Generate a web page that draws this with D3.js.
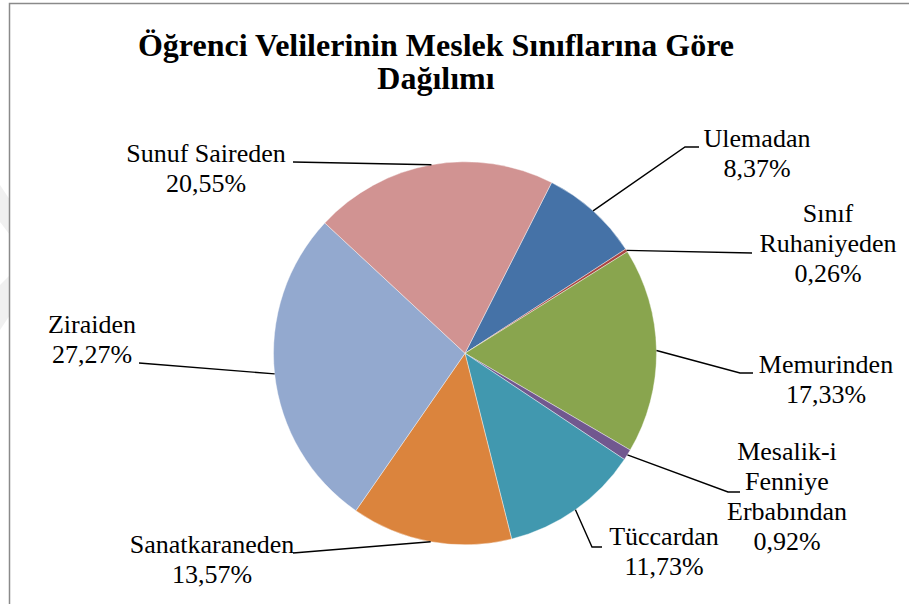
<!DOCTYPE html>
<html><head><meta charset="utf-8">
<script src="https://cdn.jsdelivr.net/npm/d3@7"></script>
<style>html,body{margin:0;padding:0;background:#fff;}svg{display:block;}</style>
</head><body>
<svg id="c" width="909" height="604"></svg>
<script>
const categories = ["Ulemadan","Sınıf Ruhaniyeden","Memurinden","Mesalik-i Fenniye Erbabından","Tüccardan","Sanatkaraneden","Ziraiden","Sunuf Saireden"];
const values = [8.37,0.26,17.33,0.92,11.73,13.57,27.27,20.55];
const valueLabels = ["8,37%","0,26%","17,33%","0,92%","11,73%","13,57%","27,27%","20,55%"];
const labelLines = [["Ulemadan"],["Sınıf","Ruhaniyeden"],["Memurinden"],["Mesalik-i","Fenniye","Erbabından"],["Tüccardan"],["Sanatkaraneden"],["Ziraiden"],["Sunuf Saireden"]];
const colors = ["#4572A7","#AA4643","#89A54E","#71588F","#4198AF","#DB843D","#93A9CF","#D19392"];
const titleLines = ["Öğrenci Velilerinin Meslek Sınıflarına Göre","Dağılımı"];

// layout: label centre x, first baseline y, leader elbow points
const labelLayout = [
  {x:757, y:147, pts:[[685,147],[699,147]]},
  {x:828, y:222, pts:[[752,253]]},
  {x:826, y:373, pts:[[740,373],[753,373]]},
  {x:787, y:460, pts:[[728,492],[740,492]]},
  {x:664, y:545, pts:[[592,547],[602,547]]},
  {x:212, y:553, pts:[[293,553]]},
  {x:92,  y:333, pts:[[139,363]]},
  {x:206, y:162, pts:[[293,162]]}
];

const FONT = '"Liberation Serif", serif';
const svg = d3.select("#c");
// faint background shapes at left edge
svg.append("path").attr("d","M0,185 L10,200 L10,235 L0,222 Z").attr("fill","#f0f0f0");
svg.append("path").attr("d","M0,285 L10,275 L10,315 L0,330 Z").attr("fill","#f0f0f0");
// border
svg.append("rect").attr("x",9.5).attr("y",3.5).attr("width",960).attr("height",700)
  .attr("fill","none").attr("stroke","#8a8a8a").attr("stroke-width",1.5);

const title = svg.append("text").attr("text-anchor","middle")
  .style("font-family",FONT).style("font-weight","bold").style("font-size","32px").attr("fill","#000");
titleLines.forEach((t,i)=>title.append("tspan").attr("x",436).attr("y",56+i*33).text(t));

const cx = 465, cy = 353.3, r = 191.5;
const a0 = 26.9*Math.PI/180;
const pie = d3.pie().sort(null).value(d=>d).startAngle(a0).endAngle(a0+2*Math.PI);
const arcs = pie(values);
const arc = d3.arc().innerRadius(0).outerRadius(r);
const g = svg.append("g").attr("transform",`translate(${cx},${cy})`);
g.selectAll("path").data(arcs).join("path").attr("d",arc)
  .attr("fill",(d,i)=>colors[i]).attr("stroke","#ffffff").attr("stroke-width",0.4);

// leaders
const line = d3.line();
arcs.forEach((d,i)=>{
  const m = (d.startAngle+d.endAngle)/2;
  const p0 = [cx + r*Math.sin(m), cy - r*Math.cos(m)];
  const pts = [p0].concat(labelLayout[i].pts);
  svg.append("path").attr("d",line(pts)).attr("fill","none").attr("stroke","#000").attr("stroke-width",1.4);
});

// labels
arcs.forEach((d,i)=>{
  const L = labelLayout[i];
  const t = svg.append("text").attr("text-anchor","middle")
    .style("font-family",FONT).style("font-size","26px").attr("fill","#000");
  const lines = labelLines[i].concat([valueLabels[i]]);
  lines.forEach((s,k)=>t.append("tspan").attr("x",L.x).attr("y",L.y+k*30).text(s));
});
</script>
</body></html>
